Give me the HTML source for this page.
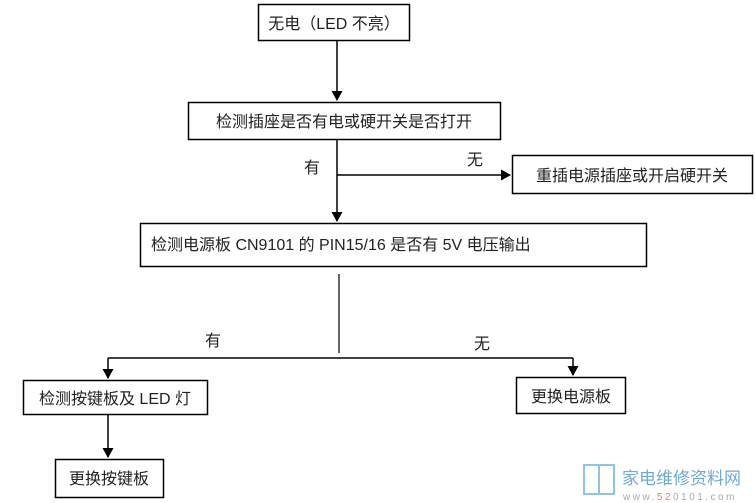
<!DOCTYPE html>
<html><head><meta charset="utf-8"><style>
html,body{margin:0;padding:0;background:#fff;width:755px;height:503px;overflow:hidden}
svg{display:block}
text{font-family:"Liberation Sans","Noto Sans CJK SC",sans-serif;font-size:16px;fill:#222}
</style></head><body>
<svg width="755" height="503" viewBox="0 0 755 503" xmlns="http://www.w3.org/2000/svg">
<defs><marker id="a" markerWidth="10" markerHeight="11" refX="9" refY="5.5" orient="auto" markerUnits="userSpaceOnUse"><path d="M0,0 L10,5.5 L0,11 z" fill="#000"/></marker></defs>
<g fill="none" stroke="#000" stroke-width="1.5">
<rect x="258.5" y="4.5" width="151" height="36"/>
<rect x="188.5" y="102.5" width="312" height="37"/>
<rect x="512.5" y="155.5" width="240" height="38"/>
<rect x="140.5" y="223.5" width="506" height="43"/>
<rect x="23.5" y="380.5" width="184" height="34"/>
<rect x="516.5" y="377.5" width="109" height="36"/>
<rect x="55.5" y="459.5" width="108" height="38"/>
<line x1="337" y1="41" x2="337" y2="100" marker-end="url(#a)"/>
<line x1="337" y1="140" x2="337" y2="221" marker-end="url(#a)"/>
<line x1="337" y1="175" x2="510" y2="175" marker-end="url(#a)"/>
<line x1="339" y1="274" x2="339" y2="353" stroke-width="1.2"/>
<line x1="108" y1="358" x2="573" y2="358"/>
<line x1="108" y1="358" x2="108" y2="378" marker-end="url(#a)"/>
<line x1="573" y1="358" x2="573" y2="375" marker-end="url(#a)"/>
<line x1="108" y1="415" x2="108" y2="457" marker-end="url(#a)"/>
</g>
<text x="334" y="29" text-anchor="middle">无电（LED 不亮）</text>
<text x="344" y="127" text-anchor="middle">检测插座是否有电或硬开关是否打开</text>
<text x="632" y="181" text-anchor="middle">重插电源插座或开启硬开关</text>
<text x="151" y="250">检测电源板 CN9101 的 PIN15/16 是否有 5V 电压输出</text>
<text x="115" y="404" text-anchor="middle">检测按键板及 LED 灯</text>
<text x="571" y="402" text-anchor="middle">更换电源板</text>
<text x="109" y="484" text-anchor="middle">更换按键板</text>
<text x="312" y="173" text-anchor="middle">有</text>
<text x="475" y="165" text-anchor="middle">无</text>
<text x="213" y="346" text-anchor="middle">有</text>
<text x="482" y="349" text-anchor="middle">无</text>
<g stroke="#8fc4e6" stroke-width="2" fill="none">
<path d="M584,465 L584,494 L599,494 L599,465 Z"/>
<path d="M599,465 L614,465 L614,494 L599,494"/>
</g>
<text x="622" y="484" style="font-size:17px;fill:#6fa9d6">家电维修资料网</text>
<text x="623" y="500" style="font-size:10px;fill:#aaa;letter-spacing:2.5px">www.<tspan style="fill:#e08080">52</tspan>0101.com</text>
</svg>
</body></html>
